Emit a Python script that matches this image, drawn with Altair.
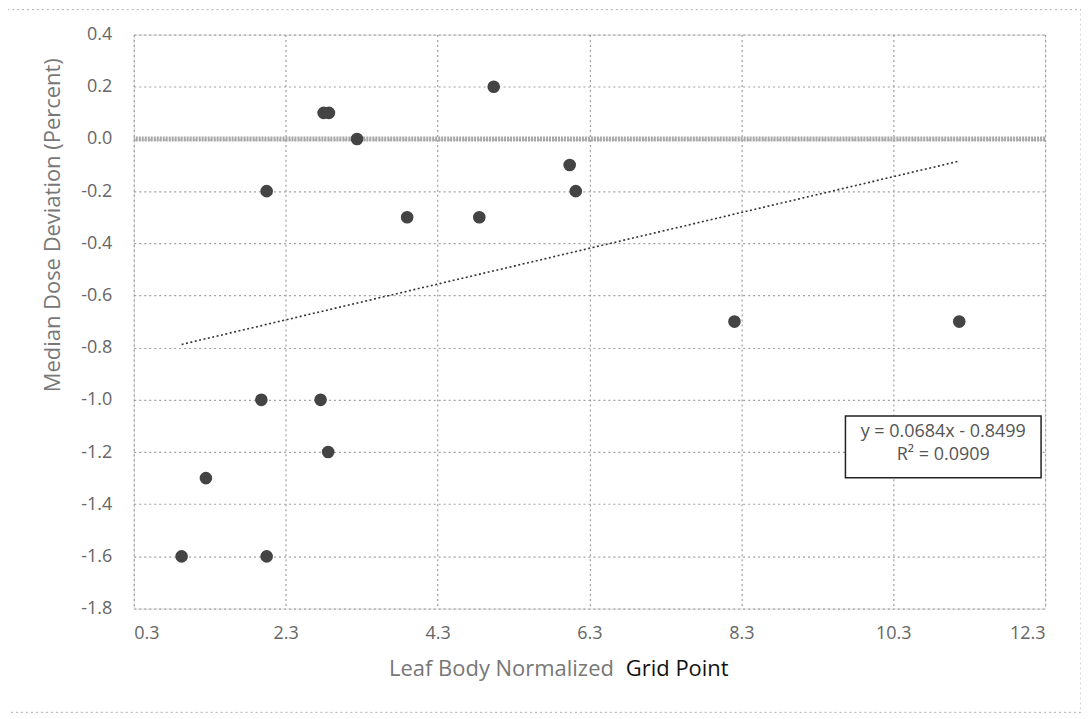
import altair as alt
import pandas as pd

# Data
grid_x = [0.93, 1.25, 1.98, 2.05, 2.05, 2.76, 2.86, 2.80, 2.87, 3.24, 3.90, 4.85, 5.04, 6.04, 6.12, 8.21, 11.17]
dev_y = [-1.6, -1.3, -1.0, -1.6, -0.2, -1.0, -1.2, 0.1, 0.1, 0.0, -0.3, -0.3, 0.2, -0.1, -0.2, -0.7, -0.7]

x_ticks = [0.3, 2.3, 4.3, 6.3, 8.3, 10.3, 12.3]
y_ticks = [-1.8, -1.6, -1.4, -1.2, -1.0, -0.8, -0.6, -0.4, -0.2, 0.0, 0.2, 0.4]
ref_line = [0.0]
equation_lines = ["y = 0.0684x - 0.8499", "R\u00b2 = 0.0909"]
x_title_parts = ["Leaf Body Normalized", "Grid Point"]
y_title = "Median Dose Deviation (Percent)"

df = pd.DataFrame({"x": grid_x, "y": dev_y})
one = pd.DataFrame({"a": [0]})

W, H = 913, 575
FONT = "Open Sans"

xs = alt.Scale(domain=[x_ticks[0], x_ticks[-1]], nice=False, zero=False)
ys = alt.Scale(domain=[y_ticks[0], y_ticks[-1]], nice=False, zero=False)

lab = "replace(format(datum.value, '.1f'), '\u2212', '-')"

xax = alt.Axis(values=x_ticks, labelExpr=lab, title=None, labelPadding=16)
yax = alt.Axis(values=y_ticks, labelExpr=lab, title=None, labelPadding=22)

base = alt.Chart(df)

points = base.mark_circle(size=160, color="#444444", opacity=1).encode(
    x=alt.X("x:Q", scale=xs, axis=xax),
    y=alt.Y("y:Q", scale=ys, axis=yax),
)

zero = alt.Chart(pd.DataFrame({"y": ref_line})).mark_rule(
    color="#a8a8a8", strokeWidth=5, strokeDash=[2, 1]
).encode(y=alt.Y("y:Q", scale=ys, axis=yax))

trend = base.transform_regression("x", "y").mark_line(
    color="#333333", strokeWidth=1.6, strokeDash=[2, 2.5]
).encode(x=alt.X("x:Q", scale=xs, axis=xax), y=alt.Y("y:Q", scale=ys, axis=yax))

border = alt.Chart(one).mark_rect(
    fill=None, stroke="#b0b0b0", strokeDash=[2, 3], strokeWidth=1
).encode(x=alt.value(-127), x2=alt.value(949), y=alt.value(-25), y2=alt.value(679))

box = alt.Chart(one).mark_rect(
    fill="white", stroke="#222222", strokeWidth=1.5
).encode(x=alt.value(713), x2=alt.value(909), y=alt.value(382), y2=alt.value(444))

eq1 = alt.Chart(one).mark_text(
    text=equation_lines[0], font=FONT, fontSize=18, color="#555555", align="center", baseline="middle"
).encode(x=alt.value(811), y=alt.value(398))
eq2 = alt.Chart(one).mark_text(
    text=equation_lines[1], font=FONT, fontSize=18, color="#555555", align="center", baseline="middle"
).encode(x=alt.value(811), y=alt.value(421))

xt1 = alt.Chart(one).mark_text(
    text=x_title_parts[0], font=FONT, fontSize=22, color="#777777", align="right", baseline="alphabetic"
).encode(x=alt.value(481), y=alt.value(643))
xt2 = alt.Chart(one).mark_text(
    text=x_title_parts[1], font=FONT, fontSize=22, color="#111111", align="left", baseline="alphabetic"
).encode(x=alt.value(493), y=alt.value(643))

yt = alt.Chart(one).mark_text(
    text=y_title, font=FONT, fontSize=22, color="#777777", angle=270, align="center", baseline="middle"
).encode(x=alt.value(-81), y=alt.value(191))

chart = alt.layer(border, zero, trend, points, box, eq1, eq2, xt1, xt2, yt).properties(
    width=W, height=H,
    autosize=alt.AutoSizeParams(type="none"),
    padding={"left": 126, "top": 26, "right": 36, "bottom": 104},
).configure_view(stroke=None).configure(background="white").configure_axis(
    grid=True, ticks=False, domain=False,
    labelFontSize=18, labelColor="#666666", labelFont=FONT,
    gridColor="#a0a0a0", gridDash=[2, 3], gridWidth=1.2,
)

chart.save("out.html", embed_options={"renderer": "svg", "actions": False})
